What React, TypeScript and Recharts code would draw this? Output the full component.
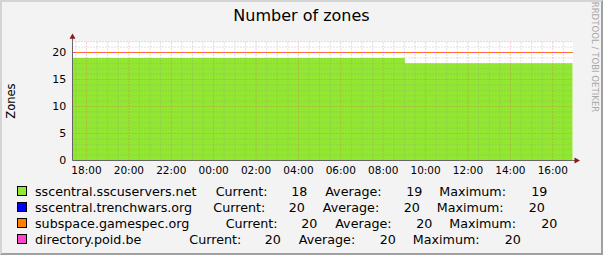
import React from "react";
import {
  ComposedChart,
  Area,
  Line,
  XAxis,
  YAxis,
  CartesianGrid,
  ReferenceLine,
} from "recharts";

// hours after 18:00 (window runs roughly 17:20 -> 16:56)
const hours = [-0.66, 15.02, 22.94];
const sscuservers = [19, 18, 18];
const trenchwars = [20, 20, 20];
const gamespec = [20, 20, 20];
const poid = [20, 20, 20];

const timeTicks = [0, 2, 4, 6, 8, 10, 12, 14, 16, 18, 20, 22];
const timeLabels = [
  "18:00", "20:00", "22:00", "00:00", "02:00", "04:00",
  "06:00", "08:00", "10:00", "12:00", "14:00", "16:00",
];
const valueTicks = [0, 5, 10, 15, 20];

const seriesNames = [
  "sscentral.sscuservers.net",
  "sscentral.trenchwars.org",
  "subspace.gamespec.org",
  "directory.poid.be",
];
const seriesColors = ["#92e830", "#0000ff", "#ff7f00", "#ff44cc"];
const currentValues = [18, 20, 20, 20];
const averageValues = [19, 20, 20, 20];
const maximumValues = [19, 20, 20, 20];

const data = hours.map((h, i) => ({
  t: h,
  a: sscuservers[i],
  b: trenchwars[i],
  c: gamespec[i],
  d: poid[i],
}));

const minorY = Array.from({ length: 22 }, (_, i) => i + 1).filter((v) => v % 5 !== 0);
const majorY = [5, 10, 15, 20];
const minorX = Array.from({ length: 48 }, (_, i) => -0.5 + i * 0.5).filter(
  (v) => v % 2 !== 0 && v > -0.66
);

const FONT = "'DejaVu Sans', sans-serif";
const MINOR = "rgba(150,150,150,0.55)";
const MAJOR = "rgba(235,90,90,0.6)";

// legend layout (x of "Current:" per row, top per row)
const currentX = [215.7, 213.3, 225.7, 189.3];
const rowTop = [183.6, 199.6, 215.6, 231.6];

function LegendRows() {
  const txt: React.CSSProperties = {
    position: "absolute",
    fontFamily: FONT,
    fontSize: 12.7,
    lineHeight: "16px",
    color: "#000",
    whiteSpace: "pre",
  };
  return (
    <>
      {seriesNames.map((name, i) => {
        const cx = currentX[i];
        return (
          <React.Fragment key={name}>
            <div
              style={{
                position: "absolute",
                left: 17,
                top: rowTop[i] + 2.4,
                width: 10,
                height: 10,
                boxSizing: "border-box",
                border: "1px solid #000",
                background: seriesColors[i],
              }}
            />
            <div style={{ ...txt, left: 35, top: rowTop[i] }}>{name}</div>
            <div style={{ ...txt, left: cx, top: rowTop[i] }}>Current:</div>
            <div style={{ ...txt, left: cx + 75.5, top: rowTop[i] }}>{currentValues[i]}</div>
            <div style={{ ...txt, left: cx + 109.5, top: rowTop[i] }}>Average:</div>
            <div style={{ ...txt, left: cx + 190.5, top: rowTop[i] }}>{averageValues[i]}</div>
            <div style={{ ...txt, left: cx + 223.5, top: rowTop[i] }}>Maximum:</div>
            <div style={{ ...txt, left: cx + 315.5, top: rowTop[i] }}>{maximumValues[i]}</div>
          </React.Fragment>
        );
      })}
    </>
  );
}

export default function App() {
  return (
    <div
      style={{
        position: "absolute",
        left: 0,
        top: 0,
        width: 603,
        height: 255,
        background: "#f3f3f3",
        overflow: "hidden",
      }}
    >
      <div
        style={{
          position: "absolute",
          left: 0,
          top: 8.2,
          width: 603,
          textAlign: "center",
          fontFamily: FONT,
          fontSize: 16,
          lineHeight: "16px",
          color: "#000",
        }}
      >
        Number of zones
      </div>
      <div
        style={{
          position: "absolute",
          left: 593.5,
          top: 56.5,
          transform: "translate(-50%, -50%) rotate(90deg)",
          fontFamily: FONT,
          fontSize: 8.6,
          lineHeight: "9px",
          color: "#a8a8a8",
          whiteSpace: "nowrap",
        }}
      >
        RRDTOOL / TOBI OETIKER
      </div>

      <div style={{ position: "absolute", left: 0, top: 0 }}>
        <ComposedChart
          width={603}
          height={255}
          data={data}
          margin={{ top: 41.7, right: 30.3, bottom: 74.5, left: 0.5 }}
        >
          <CartesianGrid fill="#ffffff" horizontal={false} vertical={false} stroke="none" />
          <XAxis
            dataKey="t"
            type="number"
            domain={[-0.66, 22.94]}
            ticks={timeTicks}
            tickFormatter={(v: number) => timeLabels[timeTicks.indexOf(v)] ?? ""}
            allowDataOverflow
            height={20}
            tickSize={0}
            tickMargin={6.5}
            tickLine={false}
            axisLine={{ stroke: "#666" }}
            tick={{ fill: "#000", fontSize: 10.5, fontFamily: FONT }}
          />
          <YAxis
            type="number"
            domain={[0, 22]}
            ticks={valueTicks}
            allowDataOverflow
            width={72}
            tickSize={0}
            tickMargin={6.3}
            tickLine={false}
            axisLine={{ stroke: "#666" }}
            tick={{ fill: "#000", fontSize: 11, fontFamily: FONT }}
            label={{
              value: "Zones",
              angle: -90,
              position: "center",
              dx: -25.5,
              style: { fill: "#000", fontSize: 11.5, fontFamily: FONT },
            }}
          />
          <Area
            dataKey="a"
            type="stepAfter"
            fill={seriesColors[0]}
            fillOpacity={1}
            stroke="none"
            isAnimationActive={false}
          />
          {minorY.map((v) => (
            <ReferenceLine key={"my" + v} y={v} stroke={MINOR} strokeDasharray="1 2" />
          ))}
          {minorX.map((v) => (
            <ReferenceLine key={"mx" + v} x={v} stroke={MINOR} strokeDasharray="1 2" />
          ))}
          {majorY.map((v) => (
            <ReferenceLine key={"My" + v} y={v} stroke={MAJOR} strokeDasharray="1 2" />
          ))}
          {timeTicks.map((v) => (
            <ReferenceLine key={"Mx" + v} x={v} stroke={MAJOR} strokeDasharray="1 2" />
          ))}
          <Line dataKey="b" type="stepAfter" stroke={seriesColors[1]} dot={false} isAnimationActive={false} />
          <Line dataKey="c" type="stepAfter" stroke={seriesColors[2]} dot={false} isAnimationActive={false} />
          <Line
            dataKey="d"
            type="stepAfter"
            stroke={seriesColors[3]}
            strokeDasharray="3 7"
            dot={false}
            isAnimationActive={false}
          />
        </ComposedChart>
      </div>

      {/* axis extensions and arrowheads */}
      <svg
        width={603}
        height={255}
        style={{ position: "absolute", left: 0, top: 0, pointerEvents: "none" }}
      >
        <line x1={72.5} y1={41.7} x2={72.5} y2={37} stroke="#666" />
        <line x1={572.7} y1={160.5} x2={576} y2={160.5} stroke="#666" />
        <polygon points="69.5,38.7 75.5,38.7 72.5,33.5" fill="#8b1a1a" />
        <polygon points="574.5,157.5 574.5,163.5 580,160.5" fill="#8b1a1a" />
      </svg>

      <LegendRows />

      <div
        style={{
          position: "absolute",
          inset: 0,
          boxSizing: "border-box",
          borderTop: "2px solid #d4d4d4",
          borderLeft: "2px solid #d4d4d4",
          borderBottom: "2px solid #a0a0a0",
          borderRight: "2px solid #a0a0a0",
          pointerEvents: "none",
        }}
      />
    </div>
  );
}
